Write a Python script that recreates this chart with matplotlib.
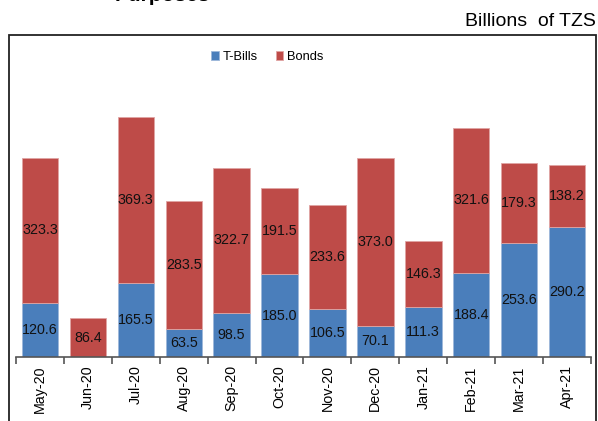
import matplotlib
matplotlib.use("Agg")
import matplotlib.pyplot as plt
from matplotlib.patches import Rectangle
import numpy as np

plt.rcParams['font.family'] = ['Liberation Sans', 'DejaVu Sans']

months = ["May-20", "Jun-20", "Jul-20", "Aug-20", "Sep-20", "Oct-20",
          "Nov-20", "Dec-20", "Jan-21", "Feb-21", "Mar-21", "Apr-21"]
tbills = [120.6, 0.0, 165.5, 63.5, 98.5, 185.0, 106.5, 70.1, 111.3, 188.4, 253.6, 290.2]
bonds = [323.3, 86.4, 369.3, 283.5, 322.7, 191.5, 233.6, 373.0, 146.3, 321.6, 179.3, 138.2]

blue = "#4A7EBB"
red = "#BE4B48"

W, H = 598, 421
fig = plt.figure(figsize=(W / 100, H / 100), dpi=100)

# outer frame around the plot area
fig.patches.append(Rectangle((9 / W, -0.01), (596 - 9) / W, 1 - 35 / H + 0.01,
                             transform=fig.transFigure, fill=False,
                             edgecolor="#222222", linewidth=1.3))

ax_left, ax_right = 16 / W, 591 / W
ax_bottom, ax_top = 1 - 357 / H, 1 - 40 / H
ax = fig.add_axes([ax_left, ax_bottom, ax_right - ax_left, ax_top - ax_bottom])

x = np.arange(len(months))
ax.bar(x, tbills, width=0.76, color=blue, edgecolor="#9DB7DA", linewidth=0.6,
       label="T-Bills")
ax.bar(x, bonds, width=0.76, bottom=tbills, color=red, edgecolor="#E0A5A4",
       linewidth=0.6, label="Bonds")

for i in range(len(months)):
    if tbills[i] > 0:
        ax.text(x[i], tbills[i] / 2, f"{tbills[i]:.1f}", ha="center", va="center",
                fontsize=10.3, color="#111111")
    ax.text(x[i], tbills[i] + bonds[i] / 2, f"{bonds[i]:.1f}", ha="center",
            va="center", fontsize=10.3, color="#111111")

ax.set_xlim(-0.5, len(months) - 0.5)
ax.set_ylim(0, 707)
for s in ("top", "right", "left"):
    ax.spines[s].set_visible(False)
ax.spines["bottom"].set_color("#555555")
ax.spines["bottom"].set_linewidth(1.2)
ax.set_yticks([])

ax.set_xticks(x)
ax.set_xticklabels(months, rotation=90, fontsize=10.3)
ax.tick_params(axis="x", length=0, pad=6)
ax.set_xticks(np.arange(-0.5, len(months)), minor=True)
ax.tick_params(axis="x", which="minor", length=5, width=1.2, color="#555555")

ax.legend(loc="center", bbox_to_anchor=(0.437, 1 - 17 / 317), ncol=2,
          frameon=False, fontsize=9.3, handlelength=0.6, handleheight=0.6,
          handletextpad=0.3, columnspacing=1.4, borderaxespad=0.0)

fig.text(596 / W, 1 - 22 / H, "Billions  of TZS", ha="right", va="center",
         fontsize=14)
fig.text(162 / W, 1 - 1 / H, "Purposes", ha="center", va="baseline",
         fontsize=15, fontweight="bold")

fig.savefig("out.png", dpi=100)
